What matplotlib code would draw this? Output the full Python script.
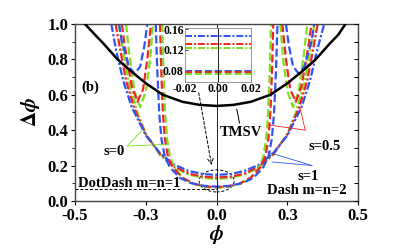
import numpy as np
import matplotlib
matplotlib.use("Agg")
import matplotlib.pyplot as plt
from matplotlib.patches import Ellipse

plt.rcParams['font.family'] = ['Liberation Serif', 'DejaVu Serif']
plt.rcParams['font.weight'] = 'bold'
plt.rcParams['mathtext.fontset'] = 'stix'

# TMSV (black solid)
tmsv_phi = [-0.465, -0.43, -0.4, -0.35, -0.3, -0.25, -0.19, -0.12, -0.06, 0.0,
            0.06, 0.12, 0.19, 0.25, 0.3, 0.35, 0.4, 0.43, 0.455]
tmsv_dphi = [1.0, 0.94, 0.89, 0.80, 0.73, 0.665, 0.60, 0.56, 0.543, 0.537,
             0.543, 0.56, 0.60, 0.665, 0.73, 0.80, 0.89, 0.94, 1.0]

# DotDash m=n=1, broad U curves
g_dd_phi = [-0.345, -0.33, -0.31, -0.28, -0.25, -0.2, -0.15, -0.1, -0.05, 0.0,
            0.05, 0.1, 0.15, 0.2, 0.25, 0.28, 0.31, 0.33, 0.345]
g_dd_val = [1.0, 0.84, 0.67, 0.5, 0.38, 0.26, 0.19, 0.15, 0.13, 0.124,
            0.13, 0.15, 0.19, 0.26, 0.38, 0.5, 0.67, 0.84, 1.0]
r_dd_phi = [-0.357, -0.34, -0.32, -0.29, -0.25, -0.2, -0.15, -0.1, -0.05, 0.0,
            0.05, 0.1, 0.15, 0.2, 0.25, 0.29, 0.32, 0.34, 0.357]
r_dd_val = [1.0, 0.85, 0.68, 0.52, 0.375, 0.265, 0.195, 0.155, 0.137, 0.132,
            0.137, 0.155, 0.195, 0.265, 0.375, 0.52, 0.68, 0.85, 1.0]
b_dd_phi = [-0.372, -0.355, -0.33, -0.3, -0.25, -0.2, -0.15, -0.1, -0.05, 0.0,
            0.05, 0.1, 0.15, 0.2, 0.25, 0.3, 0.33, 0.355, 0.38]
b_dd_val = [1.0, 0.85, 0.68, 0.53, 0.37, 0.27, 0.205, 0.17, 0.152, 0.147,
            0.152, 0.17, 0.205, 0.27, 0.37, 0.53, 0.68, 0.85, 1.0]

# Dash m=n=2, central U plus side lobes (nan breaks the line)
g_d_phi = [-0.32, -0.31, -0.29, -0.27, -0.25, -0.235, -0.225, np.nan,
           -0.192, -0.188, -0.182, -0.175, -0.165, -0.15, -0.12, -0.08, -0.04, 0.0,
           0.04, 0.08, 0.12, 0.15, 0.165, 0.175, 0.182, 0.188, 0.192, np.nan,
           0.225, 0.235, 0.25, 0.27, 0.29, 0.31, 0.32]
g_d_val = [1.0, 0.85, 0.62, 0.53, 0.62, 0.8, 1.0, np.nan,
           1.0, 0.75, 0.5, 0.35, 0.25, 0.19, 0.13, 0.095, 0.079, 0.074,
           0.079, 0.095, 0.13, 0.19, 0.25, 0.35, 0.5, 0.75, 1.0, np.nan,
           1.0, 0.8, 0.62, 0.53, 0.62, 0.85, 1.0]
r_d_phi = [-0.335, -0.325, -0.3, -0.28, -0.26, -0.245, -0.232, np.nan,
           -0.2, -0.196, -0.19, -0.183, -0.172, -0.155, -0.12, -0.08, -0.04, 0.0,
           0.04, 0.08, 0.12, 0.155, 0.172, 0.183, 0.19, 0.196, 0.2, np.nan,
           0.232, 0.245, 0.26, 0.28, 0.3, 0.325, 0.335]
r_d_val = [1.0, 0.88, 0.65, 0.56, 0.63, 0.8, 1.0, np.nan,
           1.0, 0.75, 0.5, 0.35, 0.25, 0.19, 0.13, 0.097, 0.082, 0.0775,
           0.082, 0.097, 0.13, 0.19, 0.25, 0.35, 0.5, 0.75, 1.0, np.nan,
           1.0, 0.8, 0.63, 0.56, 0.65, 0.88, 1.0]
b_d_phi = [-0.345, -0.335, -0.31, -0.29, -0.27, -0.255, -0.245, np.nan,
           -0.215, -0.21, -0.203, -0.195, -0.183, -0.165, -0.13, -0.09, -0.045, 0.0,
           0.045, 0.09, 0.13, 0.165, 0.183, 0.195, 0.203, 0.21, 0.215, np.nan,
           0.245, 0.255, 0.27, 0.29, 0.31, 0.335, 0.345]
b_d_val = [1.0, 0.9, 0.76, 0.72, 0.76, 0.88, 1.0, np.nan,
           1.0, 0.75, 0.5, 0.35, 0.25, 0.19, 0.13, 0.1, 0.085, 0.0806,
           0.085, 0.1, 0.13, 0.19, 0.25, 0.35, 0.5, 0.75, 1.0, np.nan,
           1.0, 0.88, 0.76, 0.72, 0.76, 0.9, 1.0]

# inset: values near phi = 0
inset_phi = [-0.02, 0.02]
inset_dd = {'blue': 0.147, 'red': 0.132, 'green': 0.124}
inset_d = {'blue': 0.0806, 'red': 0.0775, 'green': 0.074}

xticks = [-0.5, -0.25, 0.0, 0.25, 0.5]
xticklabels = ['-0.5', '-0.3', '0.0', '0.3', '0.5']

cols = {'blue': '#2f55f0', 'red': '#f02525', 'green': '#7fde1e'}
dd = (3.6, 1.0, 1.0, 1.0)
da = (3.6, 1.5)
lw = 1.6

fig = plt.figure(figsize=(4.15, 2.48), dpi=100)
ax = fig.add_axes([0.181, 0.19, 0.682, 0.713])

ax.plot(tmsv_phi, tmsv_dphi, color='black', lw=1.8, zorder=5)
ax.plot(g_dd_phi, g_dd_val, color=cols['green'], lw=lw, dashes=dd)
ax.plot(r_dd_phi, r_dd_val, color=cols['red'], lw=lw, dashes=dd)
ax.plot(b_dd_phi, b_dd_val, color=cols['blue'], lw=lw, dashes=dd)
ax.plot(g_d_phi, g_d_val, color=cols['green'], lw=lw, dashes=da)
ax.plot(r_d_phi, r_d_val, color=cols['red'], lw=lw, dashes=da)
ax.plot(b_d_phi, b_d_val, color=cols['blue'], lw=lw, dashes=da)

ax.axvline(0, color='black', lw=0.6)
ax.plot([-0.5, 0.0], [0.066, 0.066], color='black', lw=0.7, ls=(0, (3, 2)))
ax.add_patch(Ellipse((0.0, 0.113), 0.124, 0.125, fill=False, ec='black',
                     lw=0.7, ls=(0, (3, 2))))
ax.annotate('', xy=(-0.016, 0.186), xytext=(-0.065, 0.627),
            arrowprops=dict(arrowstyle='->', color='black', lw=0.7,
                            linestyle=(0, (3, 2))))

ax.set_xlim(-0.5, 0.5)
ax.set_ylim(0, 1.0)
ax.set_xticks(xticks)
ax.set_xticklabels(xticklabels)
ax.set_yticks(np.arange(0, 1.01, 0.2))
ax.set_yticks(np.arange(0.1, 1.0, 0.2), minor=True)
ax.yaxis.set_major_formatter(plt.FormatStrFormatter('%.1f'))
ax.tick_params(labelsize=12, length=3, width=0.8, direction='out', pad=2)
ax.tick_params(which='minor', length=2, width=0.6, direction='out')
for s in ax.spines.values():
    s.set_color('#444444')
    s.set_linewidth(1.0)

# inward ticks on the right side
ax2 = ax.twinx()
ax2.set_ylim(0, 1.0)
ax2.set_yticks(np.arange(0, 1.01, 0.1))
ax2.tick_params(direction='in', length=3, width=0.7, labelright=False)
ax2.spines[:].set_visible(False)

ax.set_xlabel(r'$\phi$', fontsize=15, va='center')
ax.xaxis.set_label_coords(0.5, -0.19)
ax.set_ylabel(r'$\Delta\phi$', fontsize=15, labelpad=4)

txt = dict(fontsize=10.5, fontweight='bold')
ax.text(-0.447, 0.644, '(b)', ha='center', va='center', **txt)
ax.text(0.087, 0.384, 'TMSV', ha='center', va='center', **txt)
ax.text(-0.489, 0.10, 'DotDash m=n=1', ha='left', va='center', **txt)
ax.text(0.461, 0.056, 'Dash m=n=2', ha='right', va='center', **txt)
ax.text(-0.362, 0.277, 's=0', ha='center', va='center', **txt)
ax.text(0.38, 0.305, 's=0.5', ha='center', va='center', **txt)
ax.text(0.323, 0.14, 's=1', ha='center', va='center', **txt)

ax.annotate('', xy=(0.069, 0.535), xytext=(0.083, 0.424),
            arrowprops=dict(arrowstyle='-', color='black', lw=0.7))
for c, vertex, targets in [
        ('green', (-0.316, 0.31), [(-0.263, 0.40), (-0.175, 0.32)]),
        ('red', (0.313, 0.40), [(0.182, 0.43), (0.295, 0.525)]),
        ('blue', (0.337, 0.20), [(0.178, 0.277), (0.196, 0.22)])]:
    for t in targets:
        ax.annotate('', xy=t, xytext=vertex,
                    arrowprops=dict(arrowstyle='-', color=cols[c], lw=0.6,
                                    shrinkA=0, shrinkB=0))

# inset
axin = fig.add_axes([0.446, 0.669, 0.159, 0.218])
for c in ['blue', 'red', 'green']:
    axin.plot(inset_phi, [inset_dd[c]] * 2, color=cols[c], lw=1.4, dashes=dd)
    axin.plot(inset_phi, [inset_d[c]] * 2, color=cols[c], lw=1.4, dashes=da)
axin.axvline(0, color='black', lw=0.6)
axin.set_xlim(-0.02, 0.02)
axin.set_ylim(0.0585, 0.162)
axin.set_xticks([-0.02, 0.0, 0.02])
axin.set_yticks([0.08, 0.12, 0.16])
axin.xaxis.set_major_formatter(plt.FormatStrFormatter('%.2f'))
axin.yaxis.set_major_formatter(plt.FormatStrFormatter('%.2f'))
axin.tick_params(labelsize=8.5, length=2, width=0.5, direction='in', pad=1)
for s in axin.spines.values():
    s.set_color('#888888')
    s.set_linewidth(0.6)

fig.savefig('out.png', dpi=100)
